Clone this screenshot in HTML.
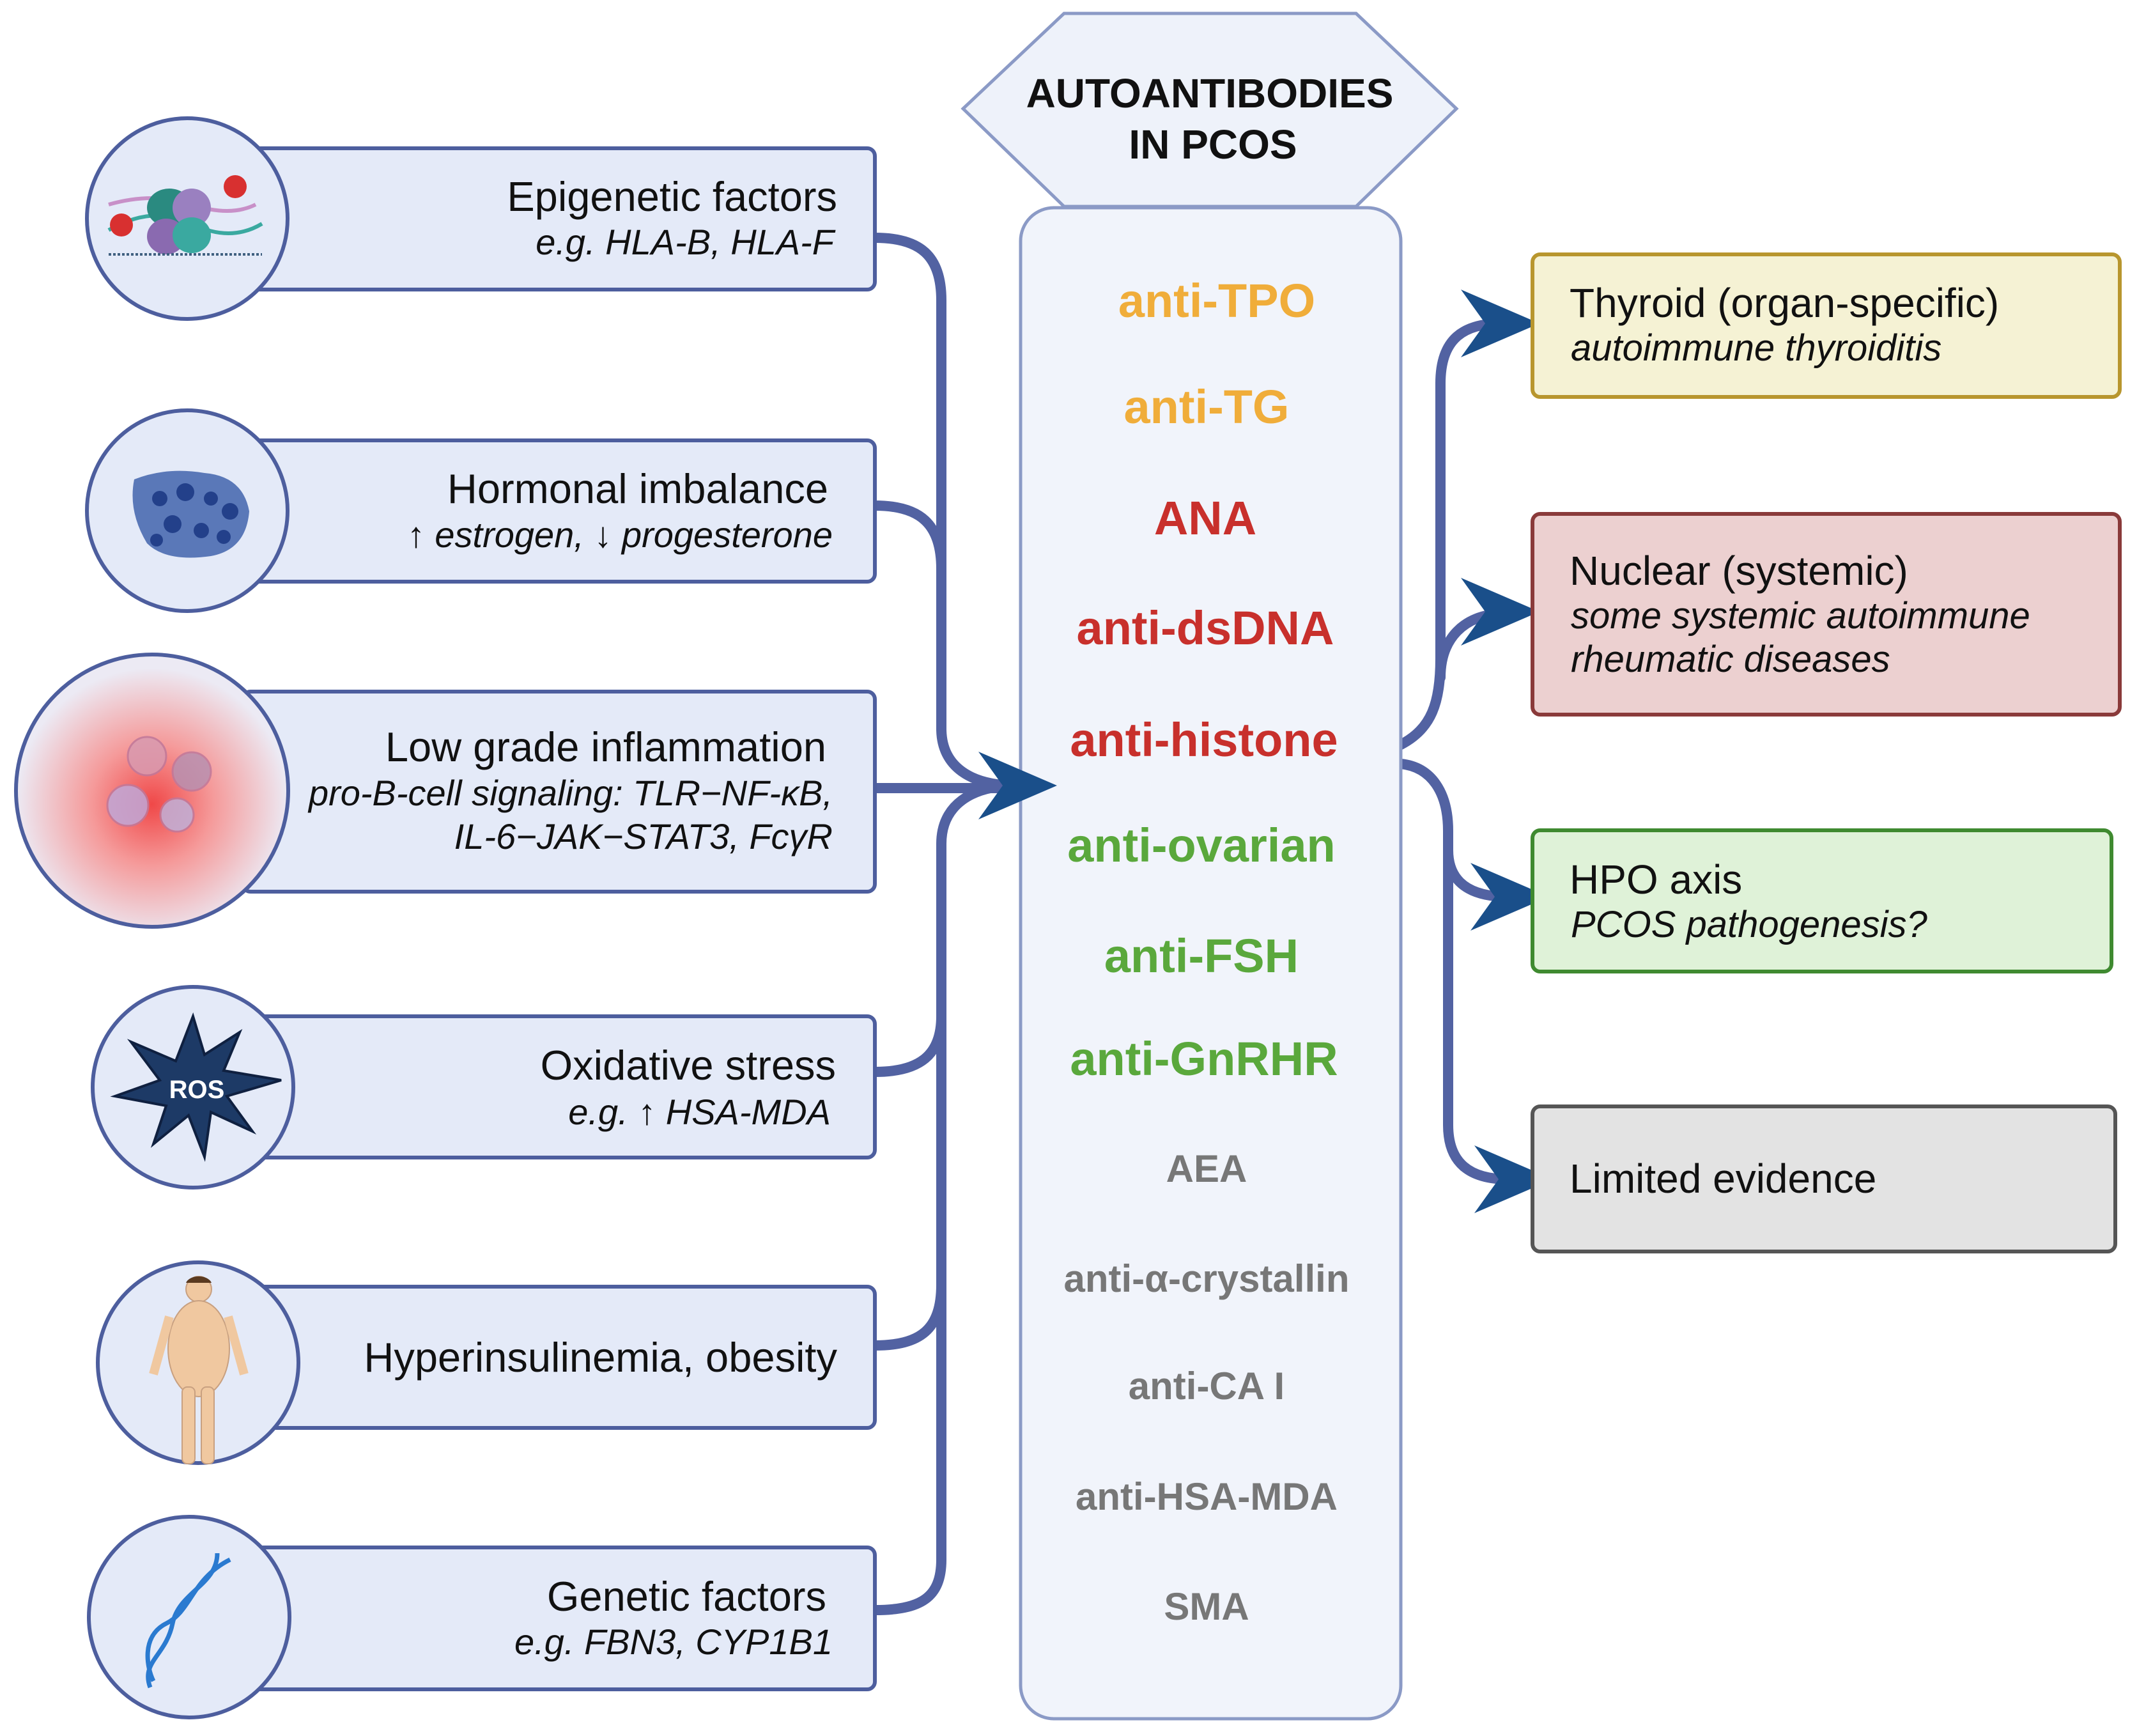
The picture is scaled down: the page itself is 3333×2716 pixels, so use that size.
<!DOCTYPE html>
<html><head><meta charset="utf-8"><style>
html,body{margin:0;padding:0;background:#fff;}
svg{display:block;}
text{font-family:"Liberation Sans",sans-serif;}
</style></head><body>
<svg width="3333" height="2716" viewBox="0 0 3333 2716" xmlns="http://www.w3.org/2000/svg">
<defs>
<radialGradient id="inf" cx="50%" cy="55%" r="50%">
<stop offset="0" stop-color="#f04848"/><stop offset="0.45" stop-color="#f59a9a"/><stop offset="1" stop-color="#eceaf4"/>
</radialGradient>
</defs>

<!-- left connectors -->
<g fill="none" stroke="#5262a2" stroke-width="16" stroke-linecap="round">
<path d="M1369,372 C1440,372 1473,400 1473,470 L1473,1140 C1473,1200 1520,1229 1590,1229"/>
<path d="M1369,791 C1440,791 1473,820 1473,890"/>
<path d="M1369,1233 L1590,1233"/>
<path d="M1590,1229 C1520,1229 1473,1260 1473,1320 L1473,2440 C1473,2500 1440,2519 1369,2519"/>
<path d="M1369,1677 C1440,1677 1473,1650 1473,1590"/>
<path d="M1369,2105 C1440,2105 1473,2080 1473,2010"/>
</g>

<!-- right connectors -->
<g fill="none" stroke="#5262a2" stroke-width="16" stroke-linecap="round">
<path d="M2192,1165 C2240,1140 2254,1100 2254,1030 L2254,600 C2254,530 2290,506 2350,506"/>
<path d="M2254,1060 C2254,1000 2290,962 2350,960"/>
<path d="M2192,1195 C2240,1200 2266,1240 2266,1300 L2266,1760 C2266,1820 2300,1845 2360,1845"/>
<path d="M2266,1330 C2266,1380 2300,1403 2360,1403"/>
</g>
<g fill="#1a4f8a">
<polygon points="2409,506 2286,453 2324,506 2286,559"/>
<polygon points="2409,957 2286,904 2324,957 2286,1010"/>
<polygon points="2424,1403 2301,1350 2339,1403 2301,1456"/>
<polygon points="2430,1845 2307,1792 2345,1845 2307,1898"/>
</g>

<!-- hexagon title -->
<polygon points="1507,170 1665,21 2122,21 2279,170 2122,323 1665,323" fill="#eef2fa" stroke="#8b9ac6" stroke-width="5"/>
<text x="1893" y="168" font-size="64" font-weight="bold" text-anchor="middle" fill="#111">AUTOANTIBODIES</text>
<text x="1898" y="248" font-size="64" font-weight="bold" text-anchor="middle" fill="#111">IN PCOS</text>

<!-- central box -->
<rect x="1597" y="325" width="595" height="2364" rx="52" fill="#f1f4fb" stroke="#8b9ac6" stroke-width="5"/>
<polygon points="1654,1229 1531,1176 1569,1229 1531,1282" fill="#1a4f8a"/>
<g font-weight="bold" text-anchor="middle">
<text x="1904" y="496" font-size="74" fill="#f0ad3a">anti-TPO</text>
<text x="1888" y="662" font-size="74" fill="#f0ad3a">anti-TG</text>
<text x="1886" y="836" font-size="74" fill="#c8302c">ANA</text>
<text x="1886" y="1008" font-size="74" fill="#c8302c">anti-dsDNA</text>
<text x="1884" y="1183" font-size="74" fill="#c8302c">anti-histone</text>
<text x="1880" y="1348" font-size="74" fill="#5aa83c">anti-ovarian</text>
<text x="1880" y="1521" font-size="74" fill="#5aa83c">anti-FSH</text>
<text x="1884" y="1682" font-size="74" fill="#5aa83c">anti-GnRHR</text>
<text x="1888" y="1849" font-size="60" fill="#777">AEA</text>
<text x="1888" y="2021" font-size="60" fill="#777">anti-α-crystallin</text>
<text x="1888" y="2189" font-size="60" fill="#777">anti-CA I</text>
<text x="1888" y="2362" font-size="60" fill="#777">anti-HSA-MDA</text>
<text x="1888" y="2534" font-size="60" fill="#777">SMA</text>
</g>

<!-- left boxes -->
<g fill="#e4eaf8" stroke="#4d5e9e" stroke-width="6">
<rect x="380" y="232" width="989" height="221" rx="12"/>
<rect x="380" y="689" width="989" height="221" rx="12"/>
<rect x="380" y="1082" width="989" height="313" rx="12"/>
<rect x="380" y="1590" width="989" height="221" rx="12"/>
<rect x="380" y="2013" width="989" height="221" rx="12"/>
<rect x="380" y="2421" width="989" height="222" rx="12"/>
</g>
<g fill="#e4eaf8" stroke="#4d5e9e" stroke-width="6">
<circle cx="293" cy="342" r="157"/>
<circle cx="293" cy="799" r="157"/>
<circle cx="238" cy="1237" r="213" fill="url(#inf)"/>
<circle cx="302" cy="1701" r="157"/>
<circle cx="310" cy="2132" r="157"/>
<circle cx="296" cy="2530" r="157"/>
</g>

<!-- icons -->
<g>
<path d="M170,360 Q240,320 300,350 Q360,380 410,350" fill="none" stroke="#3aa9a0" stroke-width="6"/>
<path d="M170,320 Q240,300 300,320 Q360,340 400,320" fill="none" stroke="#c890c8" stroke-width="6"/>
<ellipse cx="265" cy="325" rx="35" ry="30" fill="#2a8a80"/>
<ellipse cx="300" cy="325" rx="30" ry="30" fill="#9a80c0"/>
<ellipse cx="260" cy="370" rx="30" ry="28" fill="#8a6ab0"/>
<ellipse cx="300" cy="368" rx="30" ry="28" fill="#3aa9a0"/>
<line x1="170" y1="398" x2="410" y2="398" stroke="#406080" stroke-width="4" stroke-dasharray="4 3"/>
<circle cx="190" cy="352" r="18" fill="#d83030"/>
<circle cx="368" cy="292" r="18" fill="#d83030"/>
</g>
<g>
<path d="M210,750 Q260,730 320,740 Q380,745 390,800 Q385,860 330,870 Q260,880 230,850 Q200,800 210,750Z" fill="#5a78b8"/>
<g fill="#23408a"><circle cx="250" cy="780" r="12"/><circle cx="290" cy="770" r="14"/><circle cx="330" cy="780" r="11"/><circle cx="360" cy="800" r="13"/><circle cx="270" cy="820" r="14"/><circle cx="315" cy="830" r="12"/><circle cx="350" cy="840" r="11"/><circle cx="245" cy="845" r="10"/></g>
</g>
<g fill="#d89ab0" stroke="#c0789a" stroke-width="3" opacity="0.85">
<circle cx="230" cy="1183" r="30"/><circle cx="300" cy="1207" r="30" fill="#b890b0"/>
<circle cx="200" cy="1260" r="32" fill="#c0a8d8"/><circle cx="277" cy="1275" r="26" fill="#c0b0d8"/>
</g>
<polygon points="302,1590 320,1650 375,1615 350,1675 440,1690 355,1715 395,1770 330,1740 320,1810 295,1745 240,1790 260,1730 180,1715 250,1690 205,1630 275,1660" fill="#1d3a66" stroke="#0f2040" stroke-width="4"/>
<text x="308" y="1718" font-size="40" font-weight="bold" fill="#fff" text-anchor="middle">ROS</text>
<g fill="#f0c8a0" stroke="#c8a080" stroke-width="2">
<circle cx="311" cy="2017" r="20" fill="#f0c8a0"/>
<ellipse cx="311" cy="2110" rx="48" ry="75"/>
<rect x="285" y="2170" width="20" height="120" rx="8"/><rect x="315" y="2170" width="20" height="120" rx="8"/>
<path d="M265,2060 L240,2150" stroke="#f0c8a0" stroke-width="14"/><path d="M357,2060 L382,2150" stroke="#f0c8a0" stroke-width="14"/>
</g>
<path d="M311,1997 a20,14 0 0 1 20,10 l-40,0 a20,14 0 0 1 20,-10z" fill="#5a3a20"/>
<g fill="none" stroke="#2a7ad0" stroke-width="7">
<path d="M360,2440 C300,2470 300,2520 260,2540 C220,2560 230,2610 240,2630"/>
<path d="M340,2430 C340,2480 280,2490 270,2540 C260,2590 220,2600 235,2640"/>
</g>

<!-- left texts -->
<g text-anchor="end" fill="#111">
<text x="1310" y="330" font-size="65">Epigenetic factors</text>
<text x="1305" y="398" font-size="56" font-style="italic">e.g. HLA-B, HLA-F</text>
<text x="1296" y="787" font-size="65">Hormonal imbalance</text>
<text x="1303" y="856" font-size="56" font-style="italic">↑ estrogen, ↓ progesterone</text>
<text x="1293" y="1191" font-size="65">Low grade inflammation</text>
<text x="1303" y="1260" font-size="56" font-style="italic">pro-B-cell signaling: TLR−NF-κB,</text>
<text x="1303" y="1328" font-size="56" font-style="italic">IL-6−JAK−STAT3, FcγR</text>
<text x="1308" y="1689" font-size="65">Oxidative stress</text>
<text x="1300" y="1759" font-size="56" font-style="italic">e.g. ↑ HSA-MDA</text>
<text x="1310" y="2146" font-size="65">Hyperinsulinemia, obesity</text>
<text x="1293" y="2520" font-size="65">Genetic factors</text>
<text x="1303" y="2588" font-size="56" font-style="italic">e.g. FBN3, CYP1B1</text>
</g>

<!-- right boxes -->
<rect x="2398" y="398" width="919" height="223" rx="12" fill="#f5f2d4" stroke="#b8962e" stroke-width="6"/>
<rect x="2398" y="804" width="919" height="314" rx="12" fill="#ecd0d0" stroke="#8a3a3a" stroke-width="6"/>
<rect x="2398" y="1299" width="906" height="221" rx="12" fill="#dff2d8" stroke="#3f8a30" stroke-width="6"/>
<rect x="2398" y="1731" width="912" height="227" rx="12" fill="#e3e3e3" stroke="#555" stroke-width="6"/>
<g fill="#111">
<text x="2456" y="496" font-size="64">Thyroid (organ-specific)</text>
<text x="2458" y="564" font-size="58" font-style="italic">autoimmune thyroiditis</text>
<text x="2456" y="915" font-size="64">Nuclear (systemic)</text>
<text x="2458" y="983" font-size="58" font-style="italic">some systemic autoimmune</text>
<text x="2458" y="1051" font-size="58" font-style="italic">rheumatic diseases</text>
<text x="2456" y="1398" font-size="64">HPO axis</text>
<text x="2458" y="1466" font-size="58" font-style="italic">PCOS pathogenesis?</text>
<text x="2456" y="1866" font-size="64">Limited evidence</text>
</g>
</svg>
</body></html>
